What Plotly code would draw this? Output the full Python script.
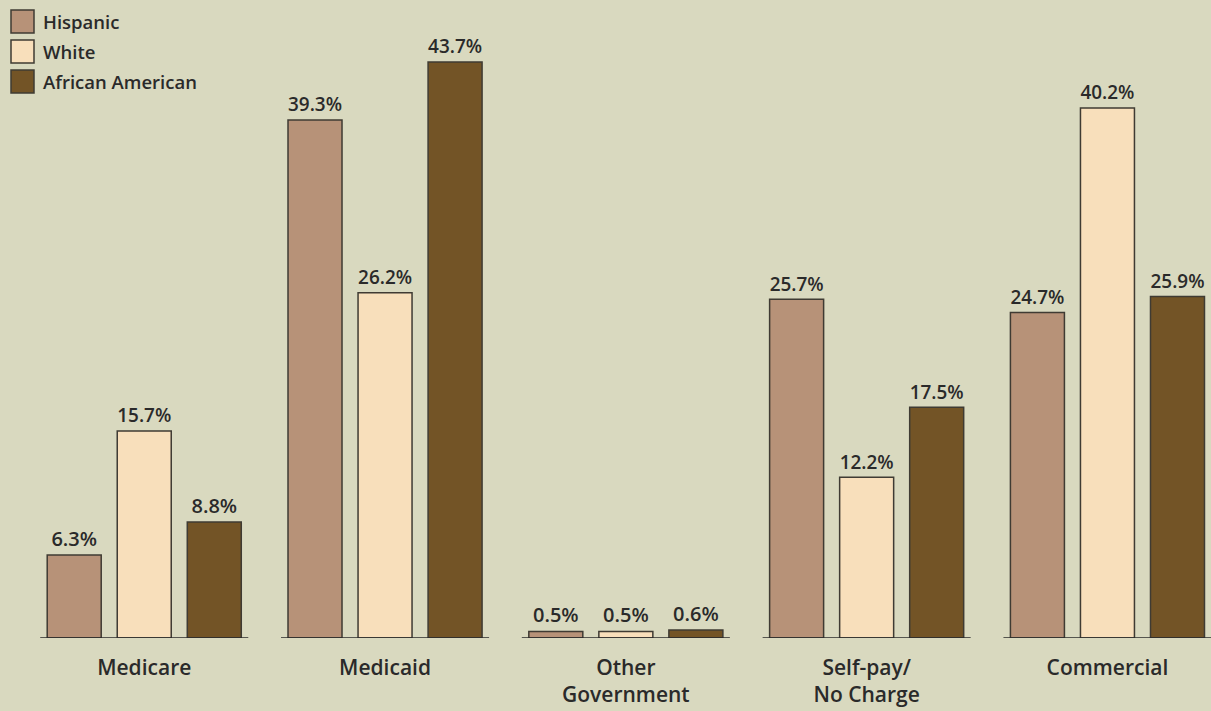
import plotly.graph_objects as go

categories = ["Medicare", "Medicaid", "Other<br>Government", "Self-pay/<br>No Charge", "Commercial"]
series_names = ["Hispanic", "White", "African American"]
hispanic = [6.3, 39.3, 0.5, 25.7, 24.7]
white = [15.7, 26.2, 0.5, 12.2, 40.2]
african_american = [8.8, 43.7, 0.6, 17.5, 25.9]
series_values = [hispanic, white, african_american]
colors = ["#b79278", "#f8dfbb", "#735426"]

BG = "#d9d9bf"
OUTLINE = "#3f3b33"
TEXT = "#2a2a2a"
FONT = "Open Sans"

fig = go.Figure()
for name, vals, col in zip(series_names, series_values, colors):
    fig.add_trace(go.Bar(
        x=categories, y=vals, name=name,
        marker=dict(color=col, line=dict(color=OUTLINE, width=1.5)),
        text=[f"{v:.1f}%" for v in vals], textposition="outside",
        textfont=dict(family=FONT, size=20, color=TEXT, weight=600),
        cliponaxis=False, showlegend=False,
    ))

# per-group baselines
shapes = []
for i in range(len(categories)):
    shapes.append(dict(type="line", xref="x", yref="y", x0=i - 0.432, x1=i + 0.432,
                       y0=0, y1=0, line=dict(color="#2a2a2a", width=1.5), layer="above"))

# manual legend
W, H_PLOT = 1211, 638
annotations = []
for k, (name, col) in enumerate(zip(series_names, colors)):
    top = 10 + 30 * k
    shapes.append(dict(type="rect", xref="paper", yref="paper",
                       x0=11 / W, x1=34 / W, y0=1 - (top + 23) / H_PLOT, y1=1 - top / H_PLOT,
                       fillcolor=col, line=dict(color=OUTLINE, width=1.5)))
    annotations.append(dict(xref="paper", yref="paper", x=41 / W, y=1 - (top + 11.5) / H_PLOT,
                            xanchor="left", yanchor="middle", text=name, showarrow=False,
                            font=dict(family=FONT, size=18.5, color=TEXT, weight=600)))

fig.update_layout(
    width=1211, height=711,
    paper_bgcolor=BG, plot_bgcolor=BG,
    margin=dict(l=0, r=0, t=0, b=73, autoexpand=False),
    barmode="group", bargap=0.1275, bargroupgap=0.229,
    shapes=shapes, annotations=annotations,
    xaxis=dict(range=[-0.599, 4.43], showgrid=False, showline=False, zeroline=False,
               automargin=False, ticks="", ticklabelstandoff=15,
               tickfont=dict(family=FONT, size=21, color=TEXT, weight=600)),
    yaxis=dict(range=[0, 48.4], visible=False, showgrid=False, zeroline=False),
    showlegend=False,
)

fig.write_html("out.html", config={"displayModeBar": False},
               post_script="document.body.style.margin='0';document.body.style.padding='0';"
                           "document.body.style.overflow='hidden';"
                           "document.body.style.background='" + BG + "';")
